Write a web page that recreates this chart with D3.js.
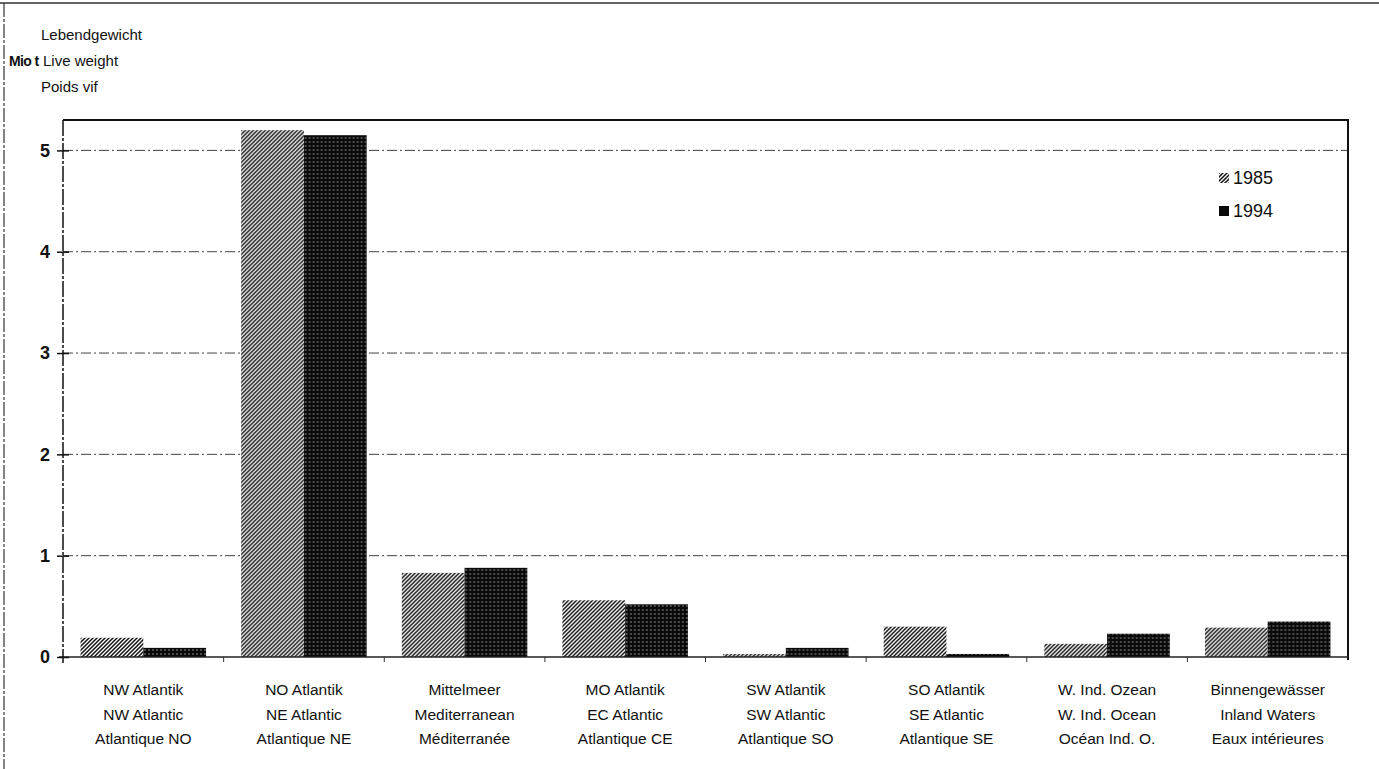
<!DOCTYPE html>
<html>
<head>
<meta charset="utf-8">
<script src="https://cdn.jsdelivr.net/npm/d3@7"></script>
<style>
  body { margin: 0; background: #fff; }
  svg { display: block; font-family: "Liberation Sans", Arial, sans-serif; }
</style>
</head>
<body>
<div id="chart"></div>
<script>
// data
const regions = [
  ["NW Atlantik", "NW Atlantic", "Atlantique NO"],
  ["NO Atlantik", "NE Atlantic", "Atlantique NE"],
  ["Mittelmeer", "Mediterranean", "Méditerranée"],
  ["MO Atlantik", "EC Atlantic", "Atlantique CE"],
  ["SW Atlantik", "SW Atlantic", "Atlantique SO"],
  ["SO Atlantik", "SE Atlantic", "Atlantique SE"],
  ["W. Ind. Ozean", "W. Ind. Ocean", "Océan Ind. O."],
  ["Binnengewässer", "Inland Waters", "Eaux intérieures"]
];
const years = ["1985", "1994"];
const values1985 = [0.19, 5.20, 0.83, 0.56, 0.03, 0.30, 0.13, 0.29];
const values1994 = [0.09, 5.15, 0.88, 0.52, 0.09, 0.03, 0.23, 0.35];
const yTicks = [0, 1, 2, 3, 4, 5];
const unitLines = ["Lebendgewicht", "Live weight", "Poids vif"];

const width = 1379;
const height = 769;
const margin = { top: 120, right: 31, bottom: 112, left: 63 };
const chartWidth = width - margin.left - margin.right;
const chartHeight = height - margin.top - margin.bottom;

const svg = d3.select("#chart")
  .append("svg")
  .attr("width", width)
  .attr("height", height);

// fill patterns
const defs = svg.append("defs");
const hatch = defs.append("pattern")
  .attr("id", "hatch")
  .attr("patternUnits", "userSpaceOnUse")
  .attr("width", 4)
  .attr("height", 4);
hatch.append("rect").attr("width", 4).attr("height", 4).attr("fill", "#fff");
hatch.append("path")
  .attr("d", "M-1,1 l2,-2 M0,4 l4,-4 M3,5 l2,-2")
  .attr("stroke", "#111")
  .attr("stroke-width", 1.5);

const dots = defs.append("pattern")
  .attr("id", "dots")
  .attr("patternUnits", "userSpaceOnUse")
  .attr("width", 4)
  .attr("height", 4);
dots.append("rect").attr("width", 4).attr("height", 4).attr("fill", "#0a0a0a");
dots.append("circle").attr("cx", 2).attr("cy", 2).attr("r", 0.7).attr("fill", "#bbb");

const fills = { "1985": "url(#hatch)", "1994": "url(#dots)" };

// page frame (top + left edge of the scan)
svg.append("line")
  .attr("x1", 0).attr("x2", width)
  .attr("y1", 3).attr("y2", 3)
  .attr("stroke", "#333").attr("stroke-width", 1.5);
svg.append("line")
  .attr("x1", 4).attr("x2", 4)
  .attr("y1", 3).attr("y2", height)
  .attr("stroke", "#333").attr("stroke-width", 1.2)
  .attr("stroke-dasharray", "14,2,3,2");

const chart = svg.append("g")
  .attr("transform", `translate(${margin.left}, ${margin.top})`);

const x0 = d3.scaleBand()
  .domain(d3.range(regions.length))
  .range([0, chartWidth])
  .padding(0);

const x1 = d3.scaleBand()
  .domain(years)
  .range([0, x0.bandwidth()])
  .paddingInner(0)
  .paddingOuter(0.28);

const yScale = d3.scaleLinear()
  .domain([0, 5.3])
  .range([chartHeight, 0]);

// gridlines
chart.append("g")
  .selectAll("line")
  .data(yTicks.filter(d => d > 0))
  .join("line")
  .attr("x1", 0)
  .attr("x2", chartWidth)
  .attr("y1", d => yScale(d))
  .attr("y2", d => yScale(d))
  .attr("stroke", "#444")
  .attr("stroke-width", 1)
  .attr("stroke-dasharray", "10,3,2,3");

// bars
const rows = regions.map((r, i) => ({ i, vals: [values1985[i], values1994[i]] }));
const groups = chart.append("g")
  .selectAll("g")
  .data(rows)
  .join("g")
  .attr("transform", d => `translate(${x0(d.i)}, 0)`);

groups.selectAll("rect")
  .data(d => years.map((y, k) => ({ year: y, value: d.vals[k] })))
  .join("rect")
  .attr("x", d => x1(d.year))
  .attr("y", d => yScale(d.value))
  .attr("width", x1.bandwidth())
  .attr("height", d => yScale(0) - yScale(d.value))
  .attr("fill", d => fills[d.year]);

// plot frame: top and right
chart.append("path")
  .attr("d", `M0,0 H${chartWidth} V${chartHeight + 3}`)
  .attr("fill", "none")
  .attr("stroke", "#111")
  .attr("stroke-width", 2);

// zero line
chart.append("line")
  .attr("x1", -4).attr("x2", chartWidth)
  .attr("y1", yScale(0)).attr("y2", yScale(0))
  .attr("stroke", "#222")
  .attr("stroke-width", 1.5);

// y axis
const yAxis = d3.axisLeft(yScale)
  .tickValues(yTicks)
  .tickSize(6)
  .tickPadding(7)
  .tickFormat(d3.format("d"));

const yg = chart.append("g").attr("class", "y-axis").call(yAxis);
yg.select(".domain")
  .attr("d", `M0,${yScale(5.3)} V${chartHeight + 6}`)
  .attr("stroke", "#111")
  .attr("stroke-width", 1.5)
  .attr("stroke-dasharray", "16,2,3,2");
yg.selectAll(".tick line")
  .attr("x1", -6).attr("x2", 6)
  .attr("stroke", "#111")
  .attr("stroke-width", 1.5);
yg.selectAll(".tick text")
  .attr("fill", "#111")
  .style("font-size", "18px")
  .style("font-weight", "bold")
  .attr("font-family", null);

// x ticks at category boundaries
chart.append("g")
  .selectAll("line")
  .data(d3.range(1, regions.length))
  .join("line")
  .attr("x1", d => x0(d))
  .attr("x2", d => x0(d))
  .attr("y1", chartHeight)
  .attr("y2", chartHeight + 5)
  .attr("stroke", "#333")
  .attr("stroke-width", 1);

// category labels
const labels = chart.append("g")
  .selectAll("text")
  .data(regions)
  .join("text")
  .attr("x", (d, i) => x0(i) + x0.bandwidth() / 2)
  .attr("y", chartHeight + 38)
  .attr("text-anchor", "middle")
  .style("font-size", "15.5px")
  .attr("fill", "#111");

labels.selectAll("tspan")
  .data(d => d)
  .join("tspan")
  .attr("x", function () { return d3.select(this.parentNode).attr("x"); })
  .attr("dy", (d, k) => (k === 0 ? 0 : 24.5))
  .text(d => d);

// unit label
svg.append("text")
  .attr("x", 9)
  .attr("y", 66)
  .style("font-size", "14px")
  .style("font-weight", "bold")
  .style("letter-spacing", "-0.6px")
  .attr("fill", "#111")
  .text("Mio t");

svg.append("g")
  .selectAll("text")
  .data(unitLines)
  .join("text")
  .attr("x", (d, i) => (i === 1 ? 43 : 41))
  .attr("y", (d, i) => 40 + i * 26)
  .style("font-size", "15px")
  .attr("fill", "#111")
  .text(d => d);

// legend
const legend = svg.append("g")
  .selectAll("g")
  .data(years)
  .join("g")
  .attr("transform", (d, i) => `translate(1219, ${173 + i * 33})`);

legend.append("rect")
  .attr("width", 10)
  .attr("height", 10)
  .attr("fill", d => (d === "1994" ? "#0a0a0a" : "url(#hatch)"));

legend.append("text")
  .attr("x", 14)
  .attr("y", 11)
  .style("font-size", "18px")
  .attr("fill", "#111")
  .text(d => d);
</script>
</body>
</html>
